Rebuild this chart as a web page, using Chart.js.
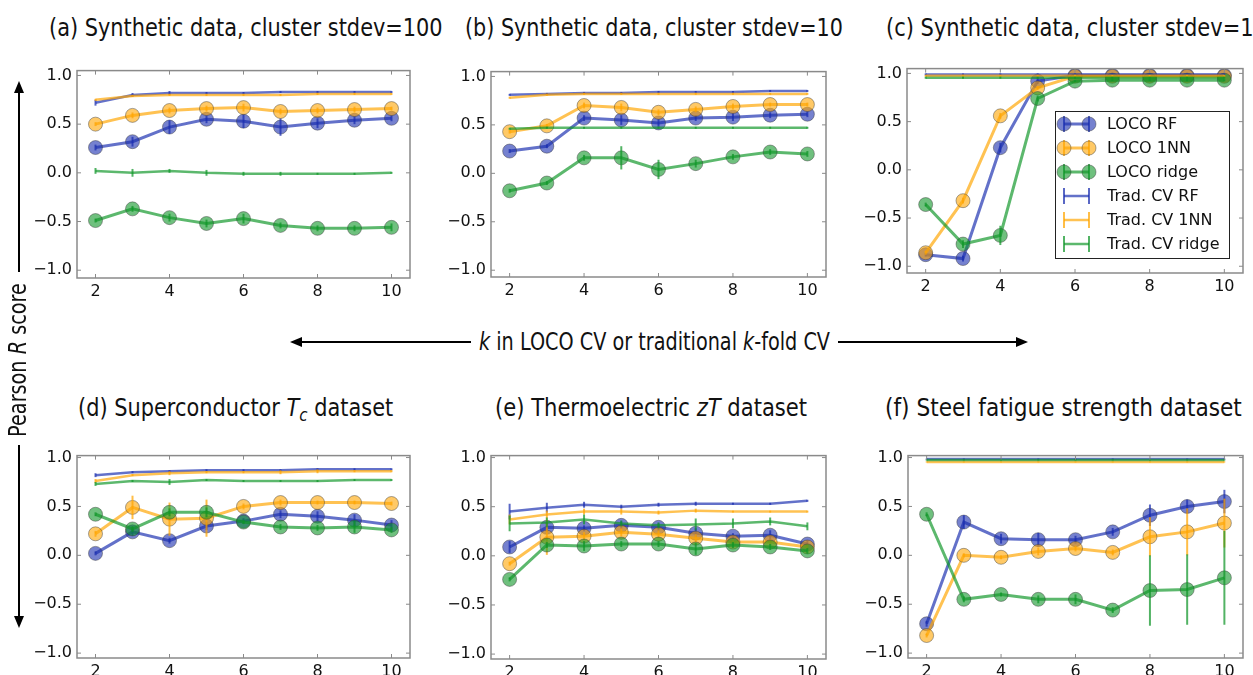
<!DOCTYPE html>
<html>
<head>
<meta charset="utf-8">
<script src="https://cdn.jsdelivr.net/npm/chart.js@4.4.1/dist/chart.umd.min.js"></script>
<style>
  html, body { margin: 0; padding: 0; background: #fff; }
  body { width: 1253px; height: 675px; position: relative; overflow: hidden;
         font-family: "DejaVu Sans", sans-serif; color: #111; }
  .panel { position: absolute; }
  .fit { position: absolute; white-space: nowrap; font-size: 24px; line-height: 28px;
         transform-origin: left center; }
  .fit sub { font-size: 0.72em; vertical-align: -0.28em; font-style: italic; line-height: 0; }
  #ylab { transform-origin: center center; }
  #legend { position: absolute; left: 1055px; top: 111px; width: 173px; height: 146px;
            border: 1px solid #222; background: #fff; font-size: 16px; }
  #legend .row { position: absolute; left: 0; height: 24px; width: 100%; }
  #legend svg { position: absolute; left: 0; top: 0; }
  #legend span { position: absolute; left: 51px; top: 2px; white-space: nowrap; color: #111; }
  #arrows { position: absolute; left: 0; top: 0; }
</style>
</head>
<body>

<script>
// x values and tick labels
const ks = [2, 3, 4, 5, 6, 7, 8, 9, 10];
const xTicks = [2, 4, 6, 8, 10];
const yTicks = [-1, -0.5, 0, 0.5, 1];
const legendLabels = ['LOCO RF', 'LOCO 1NN', 'LOCO ridge', 'Trad. CV RF', 'Trad. CV 1NN', 'Trad. CV ridge'];

// (a) synthetic, stdev=100
const aLocoRF      = [0.26, 0.32, 0.47, 0.55, 0.53, 0.47, 0.51, 0.54, 0.56];
const aLocoRFErr   = [0.03, 0.05, 0.07, 0.04, 0.07, 0.09, 0.05, 0.04, 0.03];
const aLoco1NN     = [0.50, 0.59, 0.64, 0.66, 0.67, 0.63, 0.64, 0.65, 0.66];
const aLoco1NNErr  = [0.02, 0.03, 0.03, 0.03, 0.04, 0.03, 0.03, 0.03, 0.02];
const aLocoRidge   = [-0.49, -0.37, -0.46, -0.52, -0.47, -0.54, -0.57, -0.57, -0.56];
const aLocoRidgeErr= [0.02, 0.03, 0.04, 0.04, 0.05, 0.03, 0.03, 0.03, 0.04];
const aTradRF      = [0.72, 0.80, 0.82, 0.82, 0.82, 0.83, 0.83, 0.83, 0.83];
const aTradRFErr   = [0.03, 0.02, 0.02, 0.01, 0.01, 0.01, 0.01, 0.01, 0.01];
const aTrad1NN     = [0.75, 0.79, 0.80, 0.80, 0.80, 0.80, 0.81, 0.81, 0.81];
const aTrad1NNErr  = [0.01, 0.01, 0.01, 0.01, 0.01, 0.01, 0.01, 0.01, 0.01];
const aTradRidge   = [0.02, 0.00, 0.02, 0.00, -0.01, -0.01, -0.01, -0.01, 0.00];
const aTradRidgeErr= [0.03, 0.04, 0.02, 0.03, 0.02, 0.02, 0.01, 0.01, 0.01];

// (b) synthetic, stdev=10
const bLocoRF      = [0.23, 0.28, 0.57, 0.55, 0.52, 0.57, 0.58, 0.60, 0.61];
const bLocoRFErr   = [0.02, 0.02, 0.03, 0.05, 0.04, 0.03, 0.04, 0.03, 0.03];
const bLoco1NN     = [0.43, 0.49, 0.70, 0.68, 0.63, 0.66, 0.69, 0.71, 0.71];
const bLoco1NNErr  = [0.02, 0.02, 0.03, 0.04, 0.03, 0.03, 0.03, 0.02, 0.02];
const bLocoRidge   = [-0.18, -0.10, 0.16, 0.16, 0.04, 0.10, 0.17, 0.22, 0.20];
const bLocoRidgeErr= [0.02, 0.02, 0.03, 0.12, 0.10, 0.04, 0.03, 0.03, 0.03];
const bTradRF      = [0.81, 0.82, 0.83, 0.83, 0.84, 0.84, 0.84, 0.85, 0.85];
const bTradRFErr   = [0.01, 0.01, 0.01, 0.01, 0.01, 0.01, 0.01, 0.01, 0.01];
const bTrad1NN     = [0.78, 0.81, 0.82, 0.82, 0.82, 0.82, 0.82, 0.82, 0.82];
const bTrad1NNErr  = [0.01, 0.01, 0.01, 0.01, 0.01, 0.01, 0.01, 0.01, 0.01];
const bTradRidge   = [0.46, 0.47, 0.47, 0.47, 0.47, 0.47, 0.47, 0.47, 0.47];
const bTradRidgeErr= [0.01, 0.01, 0.01, 0.01, 0.01, 0.01, 0.01, 0.01, 0.01];

// (c) synthetic, stdev=1
const cLocoRF      = [-0.88, -0.92, 0.23, 0.92, 0.98, 0.98, 0.98, 0.98, 0.98];
const cLocoRFErr   = [0.02, 0.03, 0.05, 0.03, 0.01, 0.01, 0.01, 0.01, 0.01];
const cLoco1NN     = [-0.86, -0.32, 0.56, 0.85, 0.97, 0.97, 0.97, 0.97, 0.97];
const cLoco1NNErr  = [0.02, 0.03, 0.03, 0.02, 0.01, 0.01, 0.01, 0.01, 0.01];
const cLocoRidge   = [-0.36, -0.77, -0.68, 0.74, 0.92, 0.93, 0.93, 0.93, 0.93];
const cLocoRidgeErr= [0.02, 0.04, 0.10, 0.03, 0.01, 0.01, 0.01, 0.01, 0.01];
const cTradRF      = [0.99, 0.99, 0.99, 0.99, 0.99, 0.99, 0.99, 0.99, 0.99];
const cTradRFErr   = [0.01, 0.01, 0.01, 0.01, 0.01, 0.01, 0.01, 0.01, 0.01];
const cTrad1NN     = [0.975, 0.975, 0.975, 0.975, 0.975, 0.975, 0.975, 0.975, 0.975];
const cTrad1NNErr  = [0.01, 0.01, 0.01, 0.01, 0.01, 0.01, 0.01, 0.01, 0.01];
const cTradRidge   = [0.955, 0.955, 0.955, 0.955, 0.955, 0.955, 0.955, 0.955, 0.955];
const cTradRidgeErr= [0.01, 0.01, 0.01, 0.01, 0.01, 0.01, 0.01, 0.01, 0.01];

// (d) superconductor Tc
const dLocoRF      = [0.02, 0.24, 0.15, 0.30, 0.35, 0.42, 0.40, 0.36, 0.31];
const dLocoRFErr   = [0.02, 0.04, 0.03, 0.04, 0.03, 0.04, 0.05, 0.06, 0.05];
const dLoco1NN     = [0.22, 0.49, 0.37, 0.38, 0.50, 0.54, 0.54, 0.54, 0.53];
const dLoco1NNErr  = [0.03, 0.12, 0.17, 0.19, 0.03, 0.03, 0.02, 0.02, 0.02];
const dLocoRidge   = [0.42, 0.27, 0.44, 0.44, 0.34, 0.29, 0.28, 0.29, 0.26];
const dLocoRidgeErr= [0.02, 0.03, 0.04, 0.05, 0.02, 0.03, 0.03, 0.06, 0.03];
const dTradRF      = [0.82, 0.85, 0.86, 0.87, 0.87, 0.87, 0.88, 0.88, 0.88];
const dTradRFErr   = [0.02, 0.01, 0.01, 0.01, 0.01, 0.01, 0.01, 0.01, 0.01];
const dTrad1NN     = [0.76, 0.82, 0.84, 0.85, 0.85, 0.85, 0.86, 0.86, 0.86];
const dTrad1NNErr  = [0.02, 0.01, 0.02, 0.01, 0.01, 0.02, 0.02, 0.01, 0.01];
const dTradRidge   = [0.73, 0.76, 0.75, 0.77, 0.76, 0.76, 0.76, 0.77, 0.77];
const dTradRidgeErr= [0.02, 0.01, 0.03, 0.01, 0.01, 0.01, 0.01, 0.01, 0.01];

// (e) thermoelectric zT
const eLocoRF      = [0.09, 0.29, 0.28, 0.31, 0.29, 0.23, 0.20, 0.21, 0.12];
const eLocoRFErr   = [0.06, 0.05, 0.03, 0.04, 0.04, 0.05, 0.03, 0.05, 0.04];
const eLoco1NN     = [-0.08, 0.19, 0.20, 0.24, 0.22, 0.18, 0.14, 0.14, 0.09];
const eLoco1NNErr  = [0.02, 0.18, 0.04, 0.04, 0.04, 0.04, 0.03, 0.03, 0.03];
const eLocoRidge   = [-0.24, 0.11, 0.10, 0.12, 0.12, 0.07, 0.11, 0.09, 0.05];
const eLocoRidgeErr= [0.02, 0.03, 0.05, 0.03, 0.03, 0.06, 0.03, 0.03, 0.03];
const eTradRF      = [0.45, 0.49, 0.52, 0.50, 0.52, 0.53, 0.53, 0.53, 0.56];
const eTradRFErr   = [0.08, 0.05, 0.03, 0.02, 0.02, 0.02, 0.01, 0.01, 0.01];
const eTrad1NN     = [0.37, 0.42, 0.45, 0.45, 0.44, 0.46, 0.45, 0.45, 0.45];
const eTrad1NNErr  = [0.05, 0.04, 0.03, 0.03, 0.02, 0.02, 0.01, 0.01, 0.01];
const eTradRidge   = [0.33, 0.34, 0.37, 0.33, 0.31, 0.32, 0.33, 0.35, 0.30];
const eTradRidgeErr= [0.08, 0.05, 0.05, 0.03, 0.03, 0.06, 0.05, 0.04, 0.04];

// (f) steel fatigue strength
const fLocoRF      = [-0.70, 0.34, 0.17, 0.16, 0.16, 0.24, 0.41, 0.50, 0.55];
const fLocoRFErr   = [0.03, 0.07, 0.05, 0.07, 0.04, 0.04, 0.11, 0.07, 0.12];
const fLoco1NN     = [-0.82, 0.00, -0.02, 0.04, 0.07, 0.03, 0.19, 0.24, 0.33];
const fLoco1NNErr  = [0.02, 0.02, 0.02, 0.04, 0.03, 0.03, 0.20, 0.24, 0.25];
const fLocoRidge   = [0.42, -0.45, -0.40, -0.45, -0.45, -0.56, -0.36, -0.35, -0.23];
const fLocoRidgeErr= [0.02, 0.03, 0.02, 0.04, 0.05, 0.03, 0.36, 0.36, 0.48];
const fTradRF      = [0.985, 0.985, 0.985, 0.985, 0.985, 0.985, 0.985, 0.985, 0.985];
const fTradRFErr   = [0.005, 0.005, 0.005, 0.005, 0.005, 0.005, 0.005, 0.005, 0.005];
const fTrad1NN     = [0.955, 0.955, 0.955, 0.955, 0.955, 0.955, 0.955, 0.955, 0.955];
const fTrad1NNErr  = [0.005, 0.005, 0.005, 0.005, 0.005, 0.005, 0.005, 0.005, 0.005];
const fTradRidge   = [0.975, 0.975, 0.975, 0.975, 0.975, 0.975, 0.975, 0.975, 0.975];
const fTradRidgeErr= [0.005, 0.005, 0.005, 0.005, 0.005, 0.005, 0.005, 0.005, 0.005];

const COLORS = [[25, 45, 175], [255, 165, 0], [15, 150, 40]];  // RF, 1NN, ridge
const FRAME = '#8a8a8a';
const TICK_FONT = { family: 'DejaVu Sans', size: 16 };
const YW = 60, XH = 30, PT = 12, PR = 12;

function rgba(c, a) { return 'rgba(' + c[0] + ',' + c[1] + ',' + c[2] + ',' + a + ')'; }
function fmtY(v) { return (v < 0 ? '\u2212' : '') + Math.abs(v).toFixed(1); }

// vertical error bars, drawn right after each dataset
const errorBars = {
  id: 'errorBars',
  afterDatasetDraw(chart, args) {
    const ds = chart.data.datasets[args.index];
    if (!ds.err) return;
    const y = chart.scales.y, ctx = chart.ctx;
    ctx.save();
    ctx.strokeStyle = ds.errColor;
    ctx.lineWidth = ds.errWidth;
    args.meta.data.forEach((pt, i) => {
      const v = ds.data[i].y, e = ds.err[i];
      ctx.beginPath();
      ctx.moveTo(pt.x, y.getPixelForValue(v - e));
      ctx.lineTo(pt.x, y.getPixelForValue(v + e));
      ctx.stroke();
    });
    ctx.restore();
  }
};

// box round the axes with inward ticks
const frame = {
  id: 'frame',
  afterDraw(chart) {
    const { ctx, chartArea: a, scales: { x, y } } = chart;
    ctx.save();
    ctx.strokeStyle = FRAME;
    ctx.lineWidth = 1.5;
    ctx.strokeRect(a.left, a.top, a.right - a.left, a.bottom - a.top);
    ctx.lineWidth = 1;
    ctx.beginPath();
    xTicks.forEach(v => {
      const px = x.getPixelForValue(v);
      ctx.moveTo(px, a.bottom); ctx.lineTo(px, a.bottom - 4);
      ctx.moveTo(px, a.top); ctx.lineTo(px, a.top + 4);
    });
    yTicks.forEach(v => {
      const py = y.getPixelForValue(v);
      ctx.moveTo(a.left, py); ctx.lineTo(a.left + 4, py);
      ctx.moveTo(a.right, py); ctx.lineTo(a.right - 4, py);
    });
    ctx.stroke();
    ctx.restore();
  }
};

function locoSet(vals, err, c, order) {
  return {
    data: ks.map((k, i) => ({ x: k, y: vals[i] })), err,
    errColor: rgba(c, 0.72), errWidth: 2,
    borderColor: rgba(c, 0.68), borderWidth: 3,
    pointRadius: 7, pointHoverRadius: 7,
    pointBackgroundColor: rgba(c, 0.6),
    pointBorderColor: 'rgba(60,60,60,0.45)', pointBorderWidth: 1,
    tension: 0, fill: false, order
  };
}
function tradSet(vals, err, c, order) {
  return {
    data: ks.map((k, i) => ({ x: k, y: vals[i] })), err,
    errColor: rgba(c, 0.72), errWidth: 2,
    borderColor: rgba(c, 0.68), borderWidth: 2.5,
    pointRadius: 0, pointHoverRadius: 0,
    tension: 0, fill: false, order
  };
}

function makePanel(rect, yMin, yMax, loco, trad) {
  const [L, T, R, B] = rect;
  const div = document.createElement('div');
  div.className = 'panel';
  div.style.left = (L - YW) + 'px';
  div.style.top = (T - PT) + 'px';
  div.style.width = (YW + R - L + PR) + 'px';
  div.style.height = (PT + B - T + XH) + 'px';
  const cv = document.createElement('canvas');
  div.appendChild(cv);
  document.body.appendChild(div);

  const datasets = [];
  loco.forEach((s, i) => datasets.push(locoSet(s[0], s[1], COLORS[i], 10 - i)));
  trad.forEach((s, i) => datasets.push(tradSet(s[0], s[1], COLORS[i], 5 - i)));

  new Chart(cv, {
    type: 'line',
    data: { datasets },
    options: {
      responsive: true, maintainAspectRatio: false, animation: false,
      layout: { padding: { top: PT, right: PR, left: 0, bottom: 0 } },
      plugins: { legend: { display: false }, tooltip: { enabled: false } },
      scales: {
        x: {
          type: 'linear', min: 1.5, max: 10.5,
          grid: { display: false, drawTicks: false }, border: { display: false },
          ticks: { font: TICK_FONT, color: '#111', padding: 4, maxRotation: 0 },
          afterBuildTicks: s => { s.ticks = xTicks.map(v => ({ value: v })); },
          afterFit: s => { s.height = XH; }
        },
        y: {
          type: 'linear', min: yMin, max: yMax,
          grid: { display: false, drawTicks: false }, border: { display: false },
          ticks: { font: TICK_FONT, color: '#111', padding: 5, callback: v => fmtY(v) },
          afterBuildTicks: s => { s.ticks = yTicks.map(v => ({ value: v })); },
          afterFit: s => { s.width = YW; }
        }
      }
    },
    plugins: [errorBars, frame]
  });
}

makePanel([77, 68, 410, 278], -1.08, 1.05,
  [[aLocoRF, aLocoRFErr], [aLoco1NN, aLoco1NNErr], [aLocoRidge, aLocoRidgeErr]],
  [[aTradRF, aTradRFErr], [aTrad1NN, aTrad1NNErr], [aTradRidge, aTradRidgeErr]]);
makePanel([491, 69, 826, 277], -1.07, 1.05,
  [[bLocoRF, bLocoRFErr], [bLoco1NN, bLoco1NNErr], [bLocoRidge, bLocoRidgeErr]],
  [[bTradRF, bTradRFErr], [bTrad1NN, bTrad1NNErr], [bTradRidge, bTradRidgeErr]]);
makePanel([907, 66, 1243, 273], -1.07, 1.05,
  [[cLocoRF, cLocoRFErr], [cLoco1NN, cLoco1NNErr], [cLocoRidge, cLocoRidgeErr]],
  [[cTradRF, cTradRFErr], [cTrad1NN, cTrad1NNErr], [cTradRidge, cTradRidgeErr]]);
makePanel([77, 453, 410, 658], -1.05, 1.02,
  [[dLocoRF, dLocoRFErr], [dLoco1NN, dLoco1NNErr], [dLocoRidge, dLocoRidgeErr]],
  [[dTradRF, dTradRFErr], [dTrad1NN, dTrad1NNErr], [dTradRidge, dTradRidgeErr]]);
makePanel([491, 453, 826, 659], -1.05, 1.02,
  [[eLocoRF, eLocoRFErr], [eLoco1NN, eLoco1NNErr], [eLocoRidge, eLocoRidgeErr]],
  [[eTradRF, eTradRFErr], [eTrad1NN, eTrad1NNErr], [eTradRidge, eTradRidgeErr]]);
makePanel([908, 453, 1243, 658], -1.05, 1.02,
  [[fLocoRF, fLocoRFErr], [fLoco1NN, fLoco1NNErr], [fLocoRidge, fLocoRidgeErr]],
  [[fTradRF, fTradRFErr], [fTrad1NN, fTrad1NNErr], [fTradRidge, fTradRidgeErr]]);

// titles and shared labels, squeezed to the widths of the original lettering
const texts = [
  ['(a) Synthetic data, cluster stdev=100', 49, 28, 394],
  ['(b) Synthetic data, cluster stdev=10', 465, 28, 378],
  ['(c) Synthetic data, cluster stdev=1', 886, 28, 368],
  ['(d) Superconductor <i>T</i><sub>c</sub> dataset', 78, 408, 315],
  ['(e) Thermoelectric <i>zT</i> dataset', 495, 408, 312],
  ['(f) Steel fatigue strength dataset', 885, 408, 357],
  ['<i>k</i> in LOCO CV or traditional <i>k</i>-fold CV', 479, 342, 351]
];
texts.forEach(t => {
  const el = document.createElement('div');
  el.className = 'fit';
  el.innerHTML = t[0];
  el.style.left = t[1] + 'px';
  el.style.top = (t[2] - 14) + 'px';
  document.body.appendChild(el);
  el.style.transform = 'scaleX(' + (t[3] / el.offsetWidth) + ')';
});

const yl = document.createElement('div');
yl.className = 'fit';
yl.id = 'ylab';
yl.innerHTML = 'Pearson <i>R</i> score';
document.body.appendChild(yl);
const ylw = yl.offsetWidth;
yl.style.left = (18 - ylw / 2) + 'px';
yl.style.top = (360 - 14) + 'px';
yl.style.transform = 'rotate(-90deg) scaleX(' + (154 / ylw) + ')';

// arrows
const svgNS = 'http://www.w3.org/2000/svg';
const arrows = document.createElementNS(svgNS, 'svg');
arrows.setAttribute('id', 'arrows');
arrows.setAttribute('width', 1253);
arrows.setAttribute('height', 675);
function arrow(x1, y1, x2, y2) {
  const ang = Math.atan2(y2 - y1, x2 - x1), len = 12, w = 5;
  const bx = x2 - len * Math.cos(ang), by = y2 - len * Math.sin(ang);
  const ln = document.createElementNS(svgNS, 'line');
  ln.setAttribute('x1', x1); ln.setAttribute('y1', y1);
  ln.setAttribute('x2', bx); ln.setAttribute('y2', by);
  ln.setAttribute('stroke', '#000'); ln.setAttribute('stroke-width', 2);
  arrows.appendChild(ln);
  const px = -Math.sin(ang) * w, py = Math.cos(ang) * w;
  const pg = document.createElementNS(svgNS, 'polygon');
  pg.setAttribute('points', x2 + ',' + y2 + ' ' + (bx + px) + ',' + (by + py) + ' ' + (bx - px) + ',' + (by - py));
  pg.setAttribute('fill', '#000');
  arrows.appendChild(pg);
}
arrow(19, 272, 19, 81);
arrow(19, 445, 19, 628);
arrow(471, 342, 290, 342);
arrow(838, 342, 1028, 342);
document.body.appendChild(arrows);

// legend inside panel (c)
const leg = document.createElement('div');
leg.id = 'legend';
legendLabels.forEach((lab, i) => {
  const row = document.createElement('div');
  row.className = 'row';
  row.style.top = (i * 24) + 'px';
  const c = COLORS[i % 3];
  const isLoco = i < 3;
  let s = '<svg width="44" height="24">';
  s += '<line x1="8" y1="12" x2="33" y2="12" stroke="' + rgba(c, 0.68) + '" stroke-width="' + (isLoco ? 3 : 2.5) + '"/>';
  [8, 33].forEach(cx => {
    s += '<line x1="' + cx + '" y1="4" x2="' + cx + '" y2="20" stroke="' + rgba(c, 0.72) + '" stroke-width="2"/>';
    if (isLoco) s += '<circle cx="' + cx + '" cy="12" r="7" fill="' + rgba(c, 0.6) + '" stroke="rgba(60,60,60,0.45)" stroke-width="1"/>';
  });
  s += '</svg>';
  row.innerHTML = s + '<span>' + lab + '</span>';
  leg.appendChild(row);
});
document.body.appendChild(leg);
</script>
</body>
</html>
